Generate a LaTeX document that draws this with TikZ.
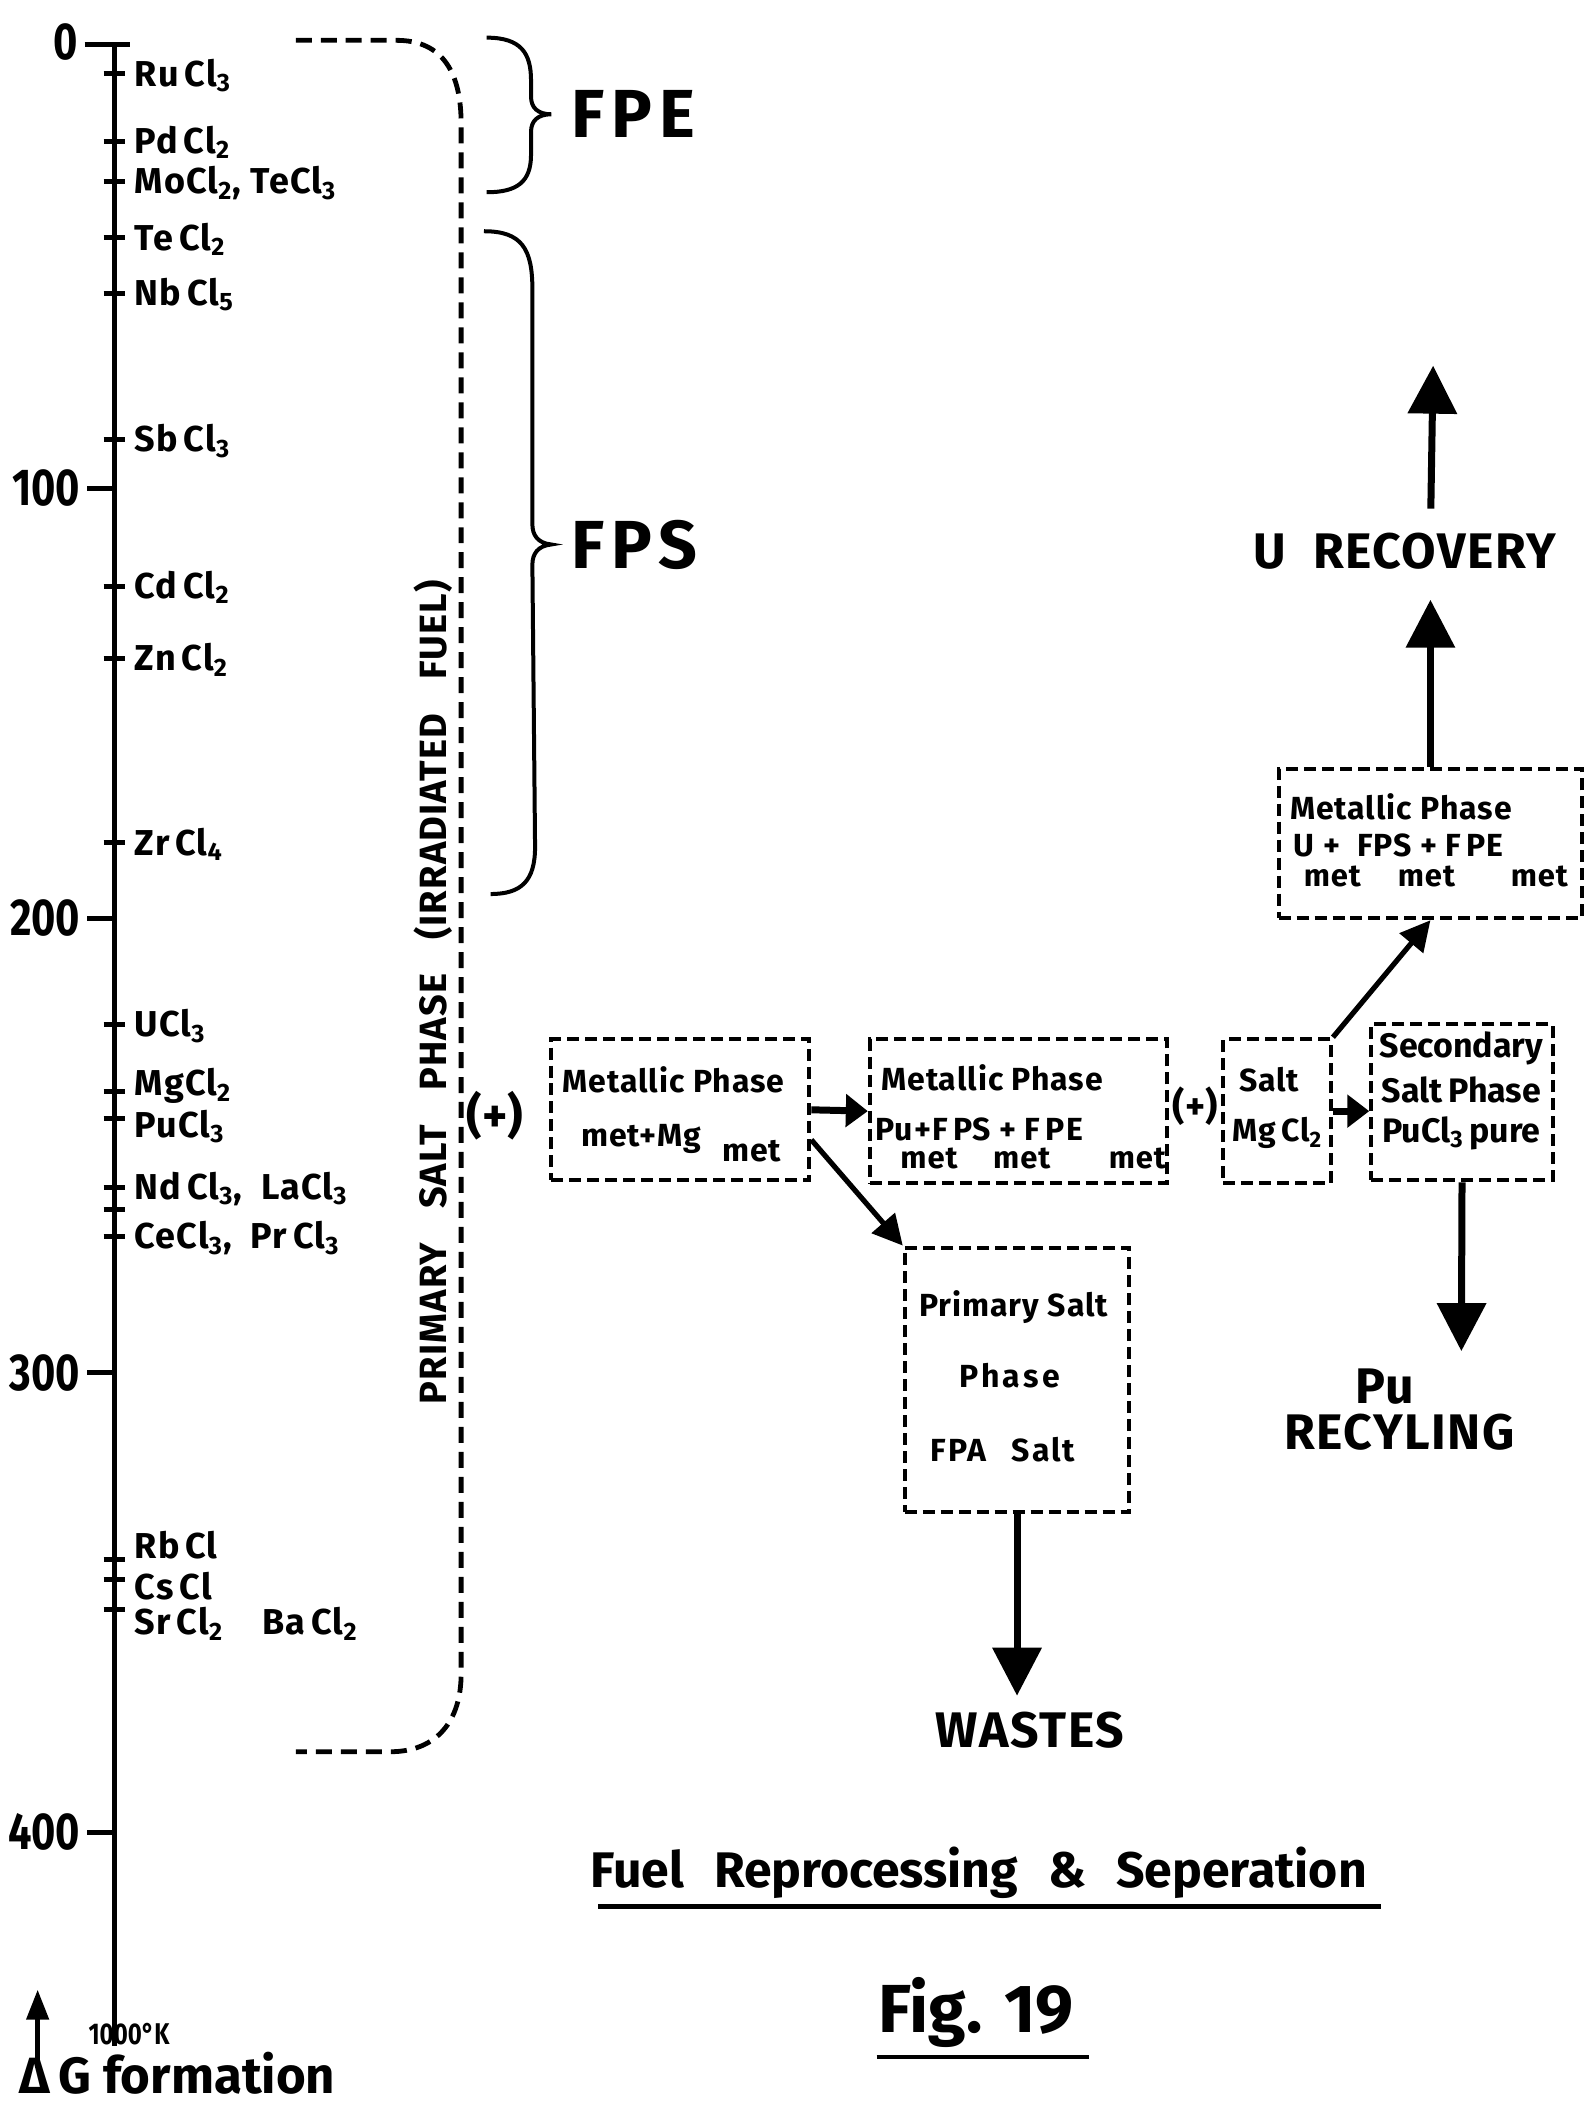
\documentclass[tikz,border=0pt]{standalone}
\usepackage{fontspec}
\setmainfont{Fira Sans}
\newfontfamily\numfont{Fira Sans}[FakeStretch=0.8]
\newfontfamily\lsa{Fira Sans}[LetterSpace=3]
\newfontfamily\lsb{Fira Sans}[LetterSpace=6]
\newfontfamily\lsc{Fira Sans}[LetterSpace=10]
\usetikzlibrary{arrows.meta,fit}
\newcommand\chsub[1]{\textsubscript{#1}}
\begin{document}
\begin{tikzpicture}[x=0.6725pt,y=-0.6725pt,
 ln/.style={line width=2.5pt},
 chem/.style={anchor=base west,inner sep=0pt,font=\lsa\fontsize{18}{19}\selectfont\bfseries},
 num/.style={anchor=east,inner sep=0pt,font=\numfont\fontsize{26}{28}\selectfont\bfseries},
 big/.style={inner sep=0pt,font=\lsc\fontsize{34}{36}\selectfont\bfseries},
 lab/.style={inner sep=0pt,font=\lsa\fontsize{25}{27}\selectfont\bfseries},
 bt/.style={inner sep=0pt,font=\lsa\fontsize{16}{17}\selectfont\bfseries},
 bsub/.style={inner sep=0pt,font=\lsa\fontsize{15.5}{16}\selectfont\bfseries},
 bigdash/.style={line width=2.4pt,dash pattern=on 8pt off 4.5pt},
 dbox/.style={draw,line width=2pt,dash pattern=on 6pt off 3pt,inner sep=0pt},
 fat/.style={line width=3.5pt,-{Triangle[width=24pt,length=24pt]}},
 midarr/.style={line width=3.5pt,-{Triangle[width=16pt,length=11pt]}},
 thinarr/.style={line width=2.6pt,-{Triangle[width=15pt,length=15pt]}},
]
\useasboundingbox (0,0) rectangle (1180,1568);
% axis
\coordinate (atop) at (85,33);
\coordinate (abot) at (85,1522);
\draw[ln] (atop) -- (abot);
\draw[ln] (63,33) -- (97,33);
\node[num] (n0) at (58,31) {0};
\foreach \y/\t in {363/100,683/200,1021/300,1363/400}{
  \draw[ln] (65,\y) -- (85,\y);
  \node[num] (n\t) at (60,\y) {\t};
}
\foreach \y in {55,105,135,177,218,327,436,490,627,762,812,832,883,900,920,1160,1175,1197}
  \draw[ln] (77,\y) -- (93,\y);
% chemical labels
\node[chem] (ru) at (100,64) {Ru\,Cl\chsub{3}};
\node[chem] (pd) at (100,114) {Pd\,Cl\chsub{2}};
\node[chem] (mo) at (100,144) {MoCl\chsub{2}, TeCl\chsub{3}};
\node[chem] (te) at (100,186) {Te\,Cl\chsub{2}};
\node[chem] (nb) at (100,227) {Nb\,Cl\chsub{5}};
\node[chem] (sb) at (100,336) {Sb\,Cl\chsub{3}};
\node[chem] (cd) at (100,445) {Cd\,Cl\chsub{2}};
\node[chem] (zn) at (100,499) {Zn\,Cl\chsub{2}};
\node[chem] (zr) at (100,636) {Zr\,Cl\chsub{4}};
\node[chem] (u) at (100,771) {UCl\chsub{3}};
\node[chem] (mg) at (100,815) {MgCl\chsub{2}};
\node[chem] (pu) at (100,846) {PuCl\chsub{3}};
\node[chem] (nd) at (100,892) {Nd\,Cl\chsub{3}, \ LaCl\chsub{3}};
\node[chem] (ce) at (100,929) {CeCl\chsub{3}, \ Pr\,Cl\chsub{3}};
\node[chem] (rb) at (100,1159) {Rb\,Cl};
\node[chem] (cs) at (100,1190) {Cs\,Cl};
\node[chem] (sr) at (100,1216) {Sr\,Cl\chsub{2}};
\node[chem] (ba) at (195,1216) {Ba\,Cl\chsub{2}};
% bottom left
\coordinate (garrb) at (28,1538);
\coordinate (garrt) at (28,1480);
\draw[line width=2.4pt,-{Triangle[width=11pt,length=15pt]}] (garrb) -- (garrt);
\node[inner sep=0pt,font=\numfont\fontsize{15}{16}\selectfont\bfseries] (kel) at (96,1513) {1000°K};
\node[inner sep=0pt,anchor=base west,font=\fontsize{25.5}{27}\selectfont\bfseries] (dg) at (14,1557) {Δ\,G formation};
% dashed bracket
\draw[bigdash] (220,30) -- (295,30) .. controls (330,30) and (343,55) .. (343,92) -- (343,1245) .. controls (343,1280) and (325,1303) .. (290,1303) -- (220,1303);
\node[rotate=90,inner sep=0pt,font=\lsa\fontsize{19}{20}\selectfont\bfseries] (psp) at (322,738) {PRIMARY\hspace{0.9em}SALT\hspace{0.9em}PHASE\hspace{0.9em}(IRRADIATED\hspace{0.9em}FUEL)};
\node[inner sep=0pt,font=\fontsize{24}{25}\selectfont\bfseries] (plus1) at (368,830) {(+)};
% braces
\draw[line width=2pt] (362,28) .. controls (388,28) and (395,40) .. (395,60) -- (395,72) .. controls (395,80) and (400,85) .. (410,85) .. controls (400,85) and (395,90) .. (395,98) -- (395,115) .. controls (395,135) and (385,143) .. (362,143);
\draw[line width=2pt] (360,172) .. controls (388,172) and (396,185) .. (396,215) -- (396,390) .. controls (396,398) and (400,404) .. (410,405) .. controls (400,406) and (396,412) .. (396,420) -- (398,630) .. controls (398,655) and (388,665) .. (365,665);
\node[big,anchor=west] (fpe) at (425,85) {FPE};
\node[big,anchor=west] (fps) at (425,405) {FPS};
% boxes
\node[dbox,fit={(410,773) (602,878)}] (b1) {};
\node[dbox,fit={(647,773) (868,880)}] (b2) {};
\node[dbox,fit={(910,773) (990,880)}] (b3) {};
\node[dbox,fit={(1020,762) (1155,878)}] (b4) {};
\node[dbox,fit={(673,928) (840,1125)}] (b5) {};
\node[dbox,fit={(951,572) (1177,683)}] (b6) {};
% box texts
\node[bt] (t1a) at (501,803) {Metallic Phase};
\node[bt,anchor=base west] (t1b) at (432,853) {met+Mg};
\node[bt,anchor=base west] (t1c) at (537,864) {met};
\node[bt] (t2a) at (738,802) {Metallic Phase};
\node[bt,anchor=base west] (t2b) at (651,848) {Pu+F\,PS + F\,PE};
\node[bsub] (t2c) at (691,862) {met};
\node[bsub] (t2d) at (760,862) {met};
\node[bsub] (t2e) at (846,862) {met};
\node[inner sep=0pt,font=\fontsize{19}{20}\selectfont\bfseries] (plus2) at (889,823) {(+)};
\node[bt] (t3a) at (944,803) {Salt};
\node[bt] (t3b) at (950,843) {Mg\,Cl\chsub{2}};
\node[bt,font=\fontsize{17}{18}\selectfont\bfseries] (t4a) at (1087,780) {Secondary};
\node[bt,font=\fontsize{17}{18}\selectfont\bfseries] (t4b) at (1087,811) {Salt\,Phase};
\node[bt,font=\fontsize{17}{18}\selectfont\bfseries] (t4c) at (1087,843) {PuCl\chsub{3}\,pure};
\node[bt] (t5a) at (754,972) {Primary Salt};
\node[bt,font=\lsc\fontsize{16}{17}\selectfont\bfseries] (t5b) at (751,1023) {Phase};
\node[bt,font=\lsb\fontsize{16}{17}\selectfont\bfseries] (t5c) at (746,1078) {FPA\hspace{0.8em}Salt};
\node[bt] (t6a) at (1042,600) {Metallic\ Phase};
\node[bt,anchor=base west] (t6b) at (962,637) {U\ +\ \ FPS\ +\ F\,PE};
\node[bsub] (t6c) at (991,652) {met};
\node[bsub] (t6d) at (1061,652) {met};
\node[bsub] (t6e) at (1145,652) {met};
% outcome labels
\node[lab] (urec) at (1045,410) {U\ \ RECOVERY};
\node[lab] (wastes) at (766,1287) {WASTES};
\node[lab,anchor=base] (pul) at (1030,1044) {Pu};
\node[lab,anchor=base] (recy) at (1041,1078) {RECYLING};
\coordinate (utop) at (1066,272);
\coordinate (putip) at (1087,1005);
% arrows
\draw[midarr] (b1.east) -- (b2.west);
\draw[thinarr] ([yshift=-15pt]b1.east) -- (b5.north west);
\draw[midarr] (b3.east) -- (b3.east -| b4.west);
\draw[thinarr] (b3.north east) -- (b6.south);
\draw[fat,shorten >=15pt] (b6.north) -- (b6.north |- urec.south);
\draw[fat,shorten <=12pt] (b6.north |- urec.north) -- (utop);
\draw[fat] (b4.south) -- (putip);
\draw[fat,shorten >=8pt] (b5.south) -- (b5.south |- wastes.north);
% title
\node[inner sep=0pt,font=\fontsize{25}{27}\selectfont\bfseries] (title) at (728,1393) {Fuel\hspace{0.6em}Reprocessing\hspace{0.6em}\&\hspace{0.6em}Seperation};
\coordinate (ul1) at (445,1418);
\coordinate (ul2) at (1027,1418);
\draw[line width=2.2pt] (ul1) -- (ul2);
\node[inner sep=0pt,font=\fontsize{34}{36}\selectfont\bfseries] (fig) at (726,1497) {Fig. 19};
\coordinate (fl1) at (652,1530);
\coordinate (fl2) at (810,1530);
\draw[line width=2.2pt] (fl1) -- (fl2);
\end{tikzpicture}
\end{document}
